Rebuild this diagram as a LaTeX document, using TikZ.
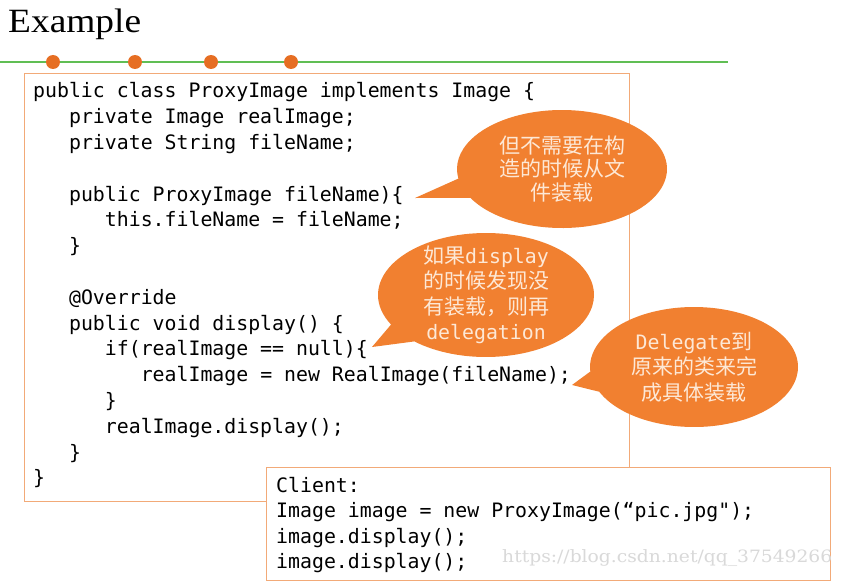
\documentclass[tikz,border=0pt]{standalone}
\usepackage{fontspec}
\newfontfamily\codefont{DejaVu Sans Mono}
\newfontfamily\cjk{Noto Sans CJK SC}
\newfontfamily\markfont{DejaVu Serif}
\newfontfamily\titlefont{Liberation Serif}
\usetikzlibrary{shapes.callouts}
\definecolor{boxline}{RGB}{242,170,120}
\definecolor{bubblefill}{RGB}{241,128,48}
\definecolor{bubbletext}{RGB}{253,232,214}
\definecolor{dotfill}{RGB}{230,110,35}
\definecolor{ruleline}{RGB}{96,190,84}
\newcommand{\tabin}{\hphantom{xxx}}
\newcommand{\cw}[1]{{\codefont\fontsize{19.85}{25}\selectfont #1}}

\begin{document}
\begin{tikzpicture}[x=1pt,y=-1pt,
  codebox/.style={draw=boxline,line width=1.4pt,fill=white,anchor=north west,inner sep=0pt},
  code/.style={anchor=north west,inner sep=0pt,align=left,font=\codefont\fontsize{19.85}{25.8}\selectfont},
  bubble/.style={ellipse callout,fill=bubblefill,inner sep=0pt,callout pointer arc=20},
  note/.style={text=bubbletext,align=center,inner sep=0pt,font=\cjk\fontsize{21}{25.5}\selectfont}]
\useasboundingbox (0,0) rectangle (843,586);

\node[anchor=base west,inner sep=0pt,font=\titlefont\fontsize{34}{40}\selectfont,xscale=1.1] (title) at (8,32.5) {Example};
\coordinate (ruleL) at (0,62);
\coordinate (ruleR) at (728,62);
\draw[ruleline,line width=1.2pt] (ruleL) -- (ruleR);
\foreach \x in {53,135,211,291}
  \fill[dotfill] (\x,62) circle[radius=7pt];

% proxy class
\node[codebox,minimum width=605pt,minimum height=428pt] (proxybox) at (24,73) {};
\node[code] (proxy) at (33,82.6) {public class ProxyImage implements Image \{\\
\tabin private Image realImage;\\
\tabin private String fileName;\\
\mbox{}\\
\tabin public ProxyImage fileName)\{\\
\tabin\tabin this.fileName = fileName;\\
\tabin \}\\
\mbox{}\\
\tabin @Override\\
\tabin public void display() \{\\
\tabin\tabin if(realImage == null)\{\\
\tabin\tabin\tabin realImage = new RealImage(fileName);\\
\tabin\tabin \}\\
\tabin\tabin realImage.display();\\
\tabin \}\\
\}};

% client
\node[codebox,minimum width=564pt,minimum height=113pt] (clientbox) at (266,467) {};
\node[code,font=\codefont\fontsize{19.85}{25.5}\selectfont] (client) at (276,476.9) {Client:\\
Image image = new ProxyImage(“pic.jpg");\\
image.display();\\
image.display();};
\node[anchor=base west,inner sep=0pt,text=black!15,font=\markfont\fontsize{17}{20}\selectfont,xscale=1.1] (mark) at (502,562) {https://blog.csdn.net/qq\_37549266};

% callouts
\coordinate (tipA) at (415,198);
\coordinate (tipB) at (372,347);
\coordinate (tipC) at (572,385);
\node[bubble,minimum width=210pt,minimum height=118pt,callout absolute pointer=(tipA)] (bubbleA) at (562,169) {};
\node[note,font=\cjk\fontsize{21}{23.5}\selectfont] (noteA) at (bubbleA.center) {但不需要在构\\造的时候从文\\件装载};
\node[bubble,minimum width=216pt,minimum height=124pt,callout absolute pointer=(tipB)] (bubbleB) at (486,295) {};
\node[note] (noteB) at (bubbleB.center) {如果\cw{display}\\的时候发现没\\有装载，则再\\\cw{delegation}};
\node[bubble,minimum width=208pt,minimum height=120pt,callout absolute pointer=(tipC)] (bubbleC) at (694,367) {};
\node[note] (noteC) at (bubbleC.center) {\cw{Delegate}到\\原来的类来完\\成具体装载};
\end{tikzpicture}
\end{document}
